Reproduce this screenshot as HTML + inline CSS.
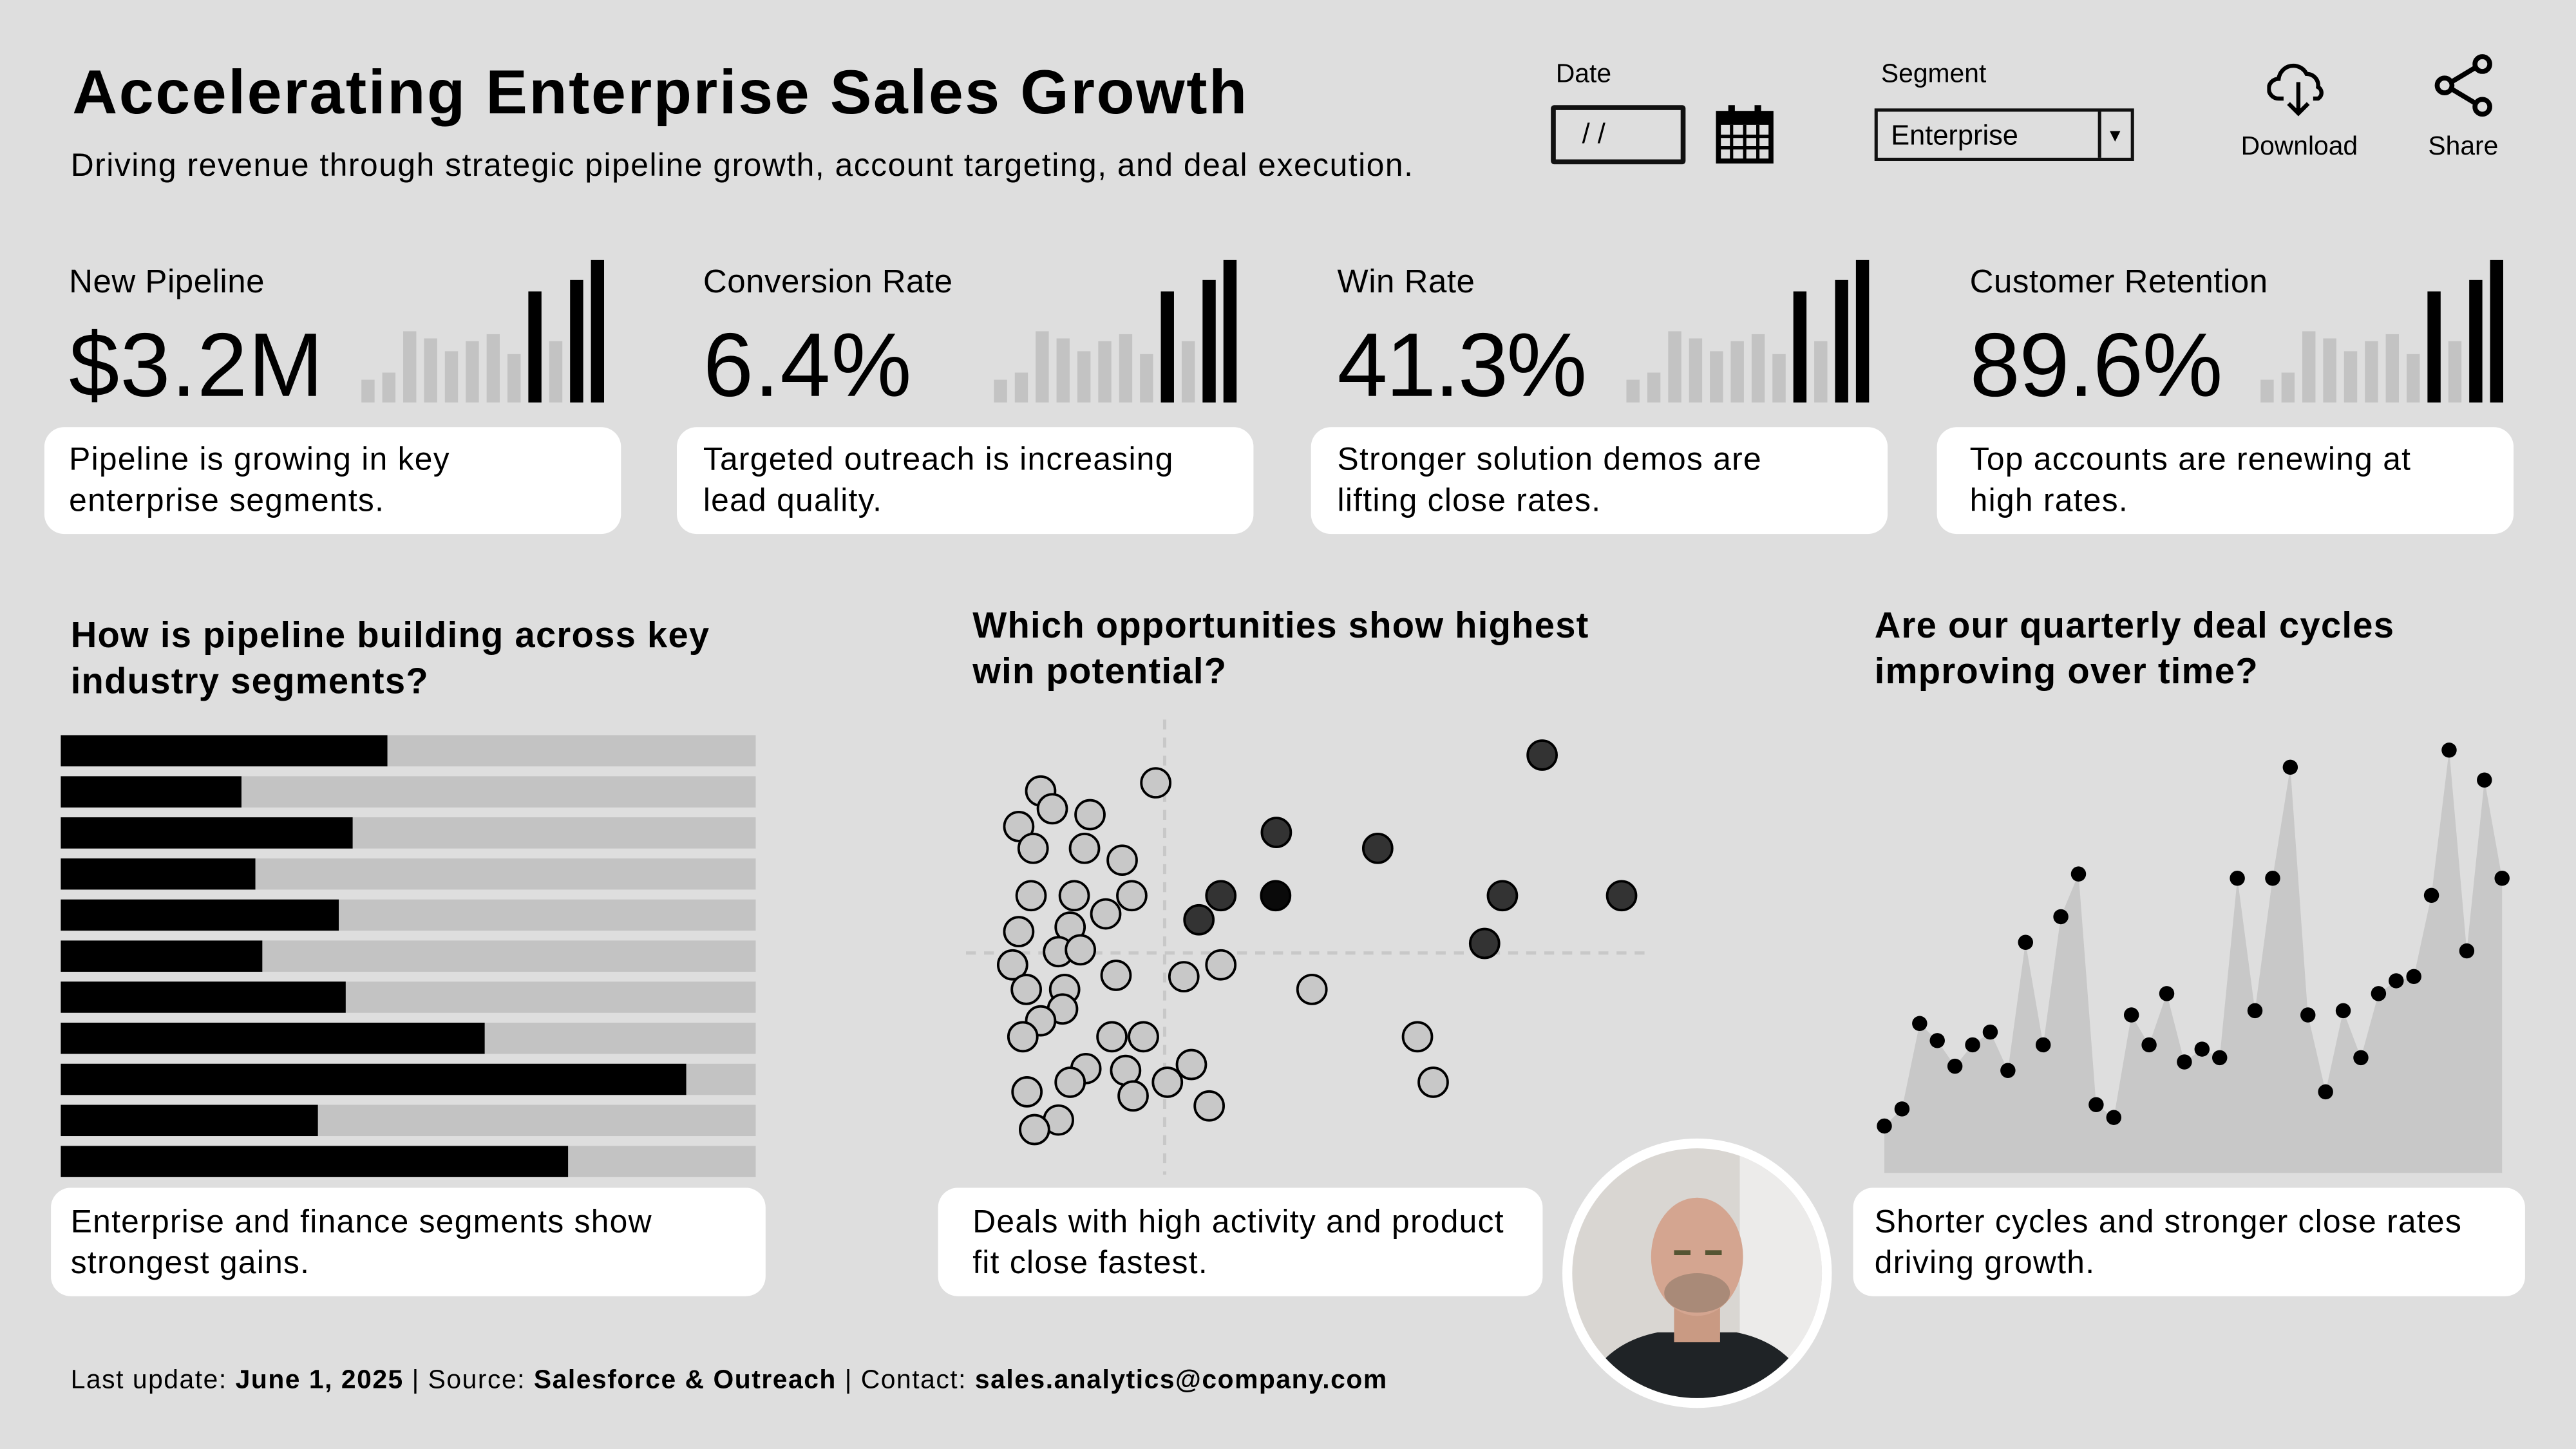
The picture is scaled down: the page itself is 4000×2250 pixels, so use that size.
<!DOCTYPE html>
<html><head><meta charset="utf-8">
<style>
html,body{margin:0;padding:0;background:#dedede;}
body{width:4000px;height:2250px;overflow:hidden;}
#root{position:absolute;left:0;top:0;width:1568px;height:882px;transform:scale(2.5510204);transform-origin:0 0;background:#dedede;font-family:"Liberation Sans",sans-serif;color:#000;}
.abs{position:absolute;}
.card{position:absolute;background:#fff;border-radius:12px;}
.cardtxt{position:absolute;font-size:19.5px;line-height:25px;letter-spacing:0.5px;white-space:nowrap;}
.kl{font-size:20px;letter-spacing:0.2px;}
.kv{font-size:55px;letter-spacing:0.5px;}
.sec{font-size:22px;font-weight:bold;line-height:28px;letter-spacing:0.5px;white-space:nowrap;}
</style></head><body>
<div id="root">
<div class="abs" style="left:44px;top:36px;font-size:38px;font-weight:bold;letter-spacing:1px;white-space:nowrap;">Accelerating Enterprise Sales Growth</div>
<div class="abs" style="left:43px;top:90px;font-size:19.5px;letter-spacing:0.6px;white-space:nowrap;">Driving revenue through strategic pipeline growth, account targeting, and deal execution.</div>

<div class="abs" style="left:947px;top:37px;font-size:16px;">Date</div>
<div class="abs" style="left:944px;top:64px;width:76px;height:30px;border:3px solid #111;border-radius:2px;font-size:17px;line-height:30px;text-indent:16px;">/ /</div>
<svg class="abs" style="left:1044px;top:62px" width="36" height="38" viewBox="0 0 36 38"><rect x="2" y="7" width="32" height="29" fill="none" stroke="#000" stroke-width="3"/><rect x="2" y="7" width="32" height="7" fill="#000"/><rect x="8" y="2" width="4" height="9" fill="#000"/><rect x="24" y="2" width="4" height="9" fill="#000"/><path d="M2 21H34M2 28H34M10 14V36M18 14V36M26 14V36" stroke="#000" stroke-width="2"/></svg>
<div class="abs" style="left:1145px;top:37px;font-size:16px;">Segment</div>
<div class="abs" style="left:1141px;top:66px;width:154px;height:28px;border:2px solid #111;background:#dedede;font-size:17px;line-height:30px;text-indent:8px;">Enterprise<div style="position:absolute;right:0;top:0;width:18px;height:28px;border-left:2px solid #111;font-size:11px;text-indent:3px;">▼</div></div>
<svg class="abs" style="left:1380px;top:36px" width="38" height="36" viewBox="0 0 38 36"><path d="M10 24H7a6 6 0 0 1 0-12 9 9 0 0 1 17-3 7 7 0 0 1 7 8 4 4 0 0 1 0 7h-3" fill="none" stroke="#000" stroke-width="2.5"/><path d="M19 14V33M13 27l6 6 6-6" fill="none" stroke="#000" stroke-width="2.5"/></svg>
<div class="abs" style="left:1364px;top:81px;font-size:16px;">Download</div>
<svg class="abs" style="left:1480px;top:32px" width="40" height="40" viewBox="0 0 40 40"><circle cx="31" cy="7" r="4.5" fill="none" stroke="#000" stroke-width="3"/><circle cx="8" cy="20" r="4.5" fill="none" stroke="#000" stroke-width="3"/><circle cx="31" cy="33" r="4.5" fill="none" stroke="#000" stroke-width="3"/><path d="M12 18L27 9M12 22L27 31" stroke="#000" stroke-width="3"/></svg>
<div class="abs" style="left:1478px;top:81px;font-size:16px;">Share</div>

<div class="abs kl" style="left:42px;top:161px;">New Pipeline</div>
<div class="abs kv" style="left:42px;top:190px;">$3.2M</div>
<div class="abs kl" style="left:428px;top:161px;">Conversion Rate</div>
<div class="abs kv" style="left:428px;top:190px;">6.4%</div>
<div class="abs kl" style="left:814px;top:161px;">Win Rate</div>
<div class="abs kv" style="left:814px;top:190px;letter-spacing:-1px;">41.3%</div>
<div class="abs kl" style="left:1199px;top:161px;">Customer Retention</div>
<div class="abs kv" style="left:1199px;top:190px;letter-spacing:-0.5px;">89.6%</div>

<div class="card" style="left:27px;top:260px;width:351px;height:65px;"><div class="cardtxt" style="left:15px;top:8px;">Pipeline is growing in key<br>enterprise segments.</div></div>
<div class="card" style="left:412px;top:260px;width:351px;height:65px;"><div class="cardtxt" style="left:16px;top:8px;">Targeted outreach is increasing<br>lead quality.</div></div>
<div class="card" style="left:798px;top:260px;width:351px;height:65px;"><div class="cardtxt" style="left:16px;top:8px;">Stronger solution demos are<br>lifting close rates.</div></div>
<div class="card" style="left:1179px;top:260px;width:351px;height:65px;"><div class="cardtxt" style="left:20px;top:8px;">Top accounts are renewing at<br>high rates.</div></div>

<div class="abs sec" style="left:43px;top:373px;">How is pipeline building across key<br>industry segments?</div>
<div class="abs sec" style="left:592px;top:367px;">Which opportunities show highest<br>win potential?</div>
<div class="abs sec" style="left:1141px;top:367px;">Are our quarterly deal cycles<br>improving over time?</div>

<svg id="chart" class="abs" style="left:0;top:0" width="1568" height="882"></svg>

<div class="card" style="left:31px;top:723px;width:435px;height:66px;"><div class="cardtxt" style="left:12px;top:9px;">Enterprise and finance segments show<br>strongest gains.</div></div>
<div class="card" style="left:571px;top:723px;width:368px;height:66px;"><div class="cardtxt" style="left:21px;top:9px;">Deals with high activity and product<br>fit close fastest.</div></div>
<div class="card" style="left:1128px;top:723px;width:409px;height:66px;"><div class="cardtxt" style="left:13px;top:9px;">Shorter cycles and stronger close rates<br>driving growth.</div></div>

<svg class="abs" style="left:949px;top:691px" width="168" height="168" viewBox="0 0 168 168">
<defs><clipPath id="cp"><circle cx="84" cy="84" r="76"/></clipPath></defs>
<circle cx="84" cy="84" r="82" fill="#fff"/>
<g clip-path="url(#cp)"><rect width="168" height="168" fill="#d9d6d2"/><rect x="110" width="58" height="168" fill="#ecebea"/>
<path d="M10 170 Q20 128 60 120 L108 120 Q148 128 158 170Z" fill="#1f2326"/>
<rect x="70" y="100" width="28" height="26" fill="#c99a83"/>
<ellipse cx="84" cy="74" rx="28" ry="36" fill="#d4a590"/>
<ellipse cx="84" cy="96" rx="20" ry="12" fill="#a98a78"/>
<rect x="70" y="70" width="10" height="3" fill="#553"/><rect x="89" y="70" width="10" height="3" fill="#553"/></g>
</svg>

<div class="abs" style="left:43px;top:832px;font-size:16px;letter-spacing:0.6px;white-space:nowrap;">Last update: <b>June 1, 2025</b> | Source: <b>Salesforce &amp; Outreach</b> | Contact: <b>sales.analytics@company.com</b></div>
</div>
<script>
// KPI sparkbars (shared pattern)
const sparkValues=[16,21,50,45,36,43,48,34,78,43,86,100];
const sparkHighlight=[0,0,0,0,0,0,0,0,1,0,1,1];
// Pipeline by industry segment (% of target)
const segments=["Enterprise","Mid-Market","Finance","Healthcare","Retail","Education","Manufacturing","Technology","Financial Services","Government","Telecom"];
const segmentValues=[47,26,42,28,40,29,41,61,90,37,73];
// Opportunity scatter
const oppActivity=[10.9,12.6,18.1,7.7,9.8,17.3,22.8,27.7,9.5,15.8,24.2,20.4,7.7,15.2,13.5,16.7,6.8,21.9,31.8,37.2,8.8,14.4,14.1,10.9,8.3,21.3,25.9,50.5,65.9,17.5,23.3,32.9,15.2,29.4,24.4,8.9,68.2,35.5,13.5,10,84.1,45.3,60.1,37.2,45.2,78.3,95.7,34,75.7];
const oppFit=[84.3,80.4,79.1,76.5,71.7,71.7,69.1,86.1,61.3,61.3,61.3,57.3,53.4,54.4,49,49.4,46.1,43.8,43.5,46.1,40.7,40.7,36.4,33.8,30.3,30.3,30.3,40.7,30.3,23.3,22.9,24.2,20.3,20.3,17.3,18.2,20.3,15.1,12,9.9,92.2,75.2,71.7,61.3,61.3,61.3,61.3,56,50.8];
const oppTier=[0,0,0,0,0,0,0,0,0,0,0,0,0,0,0,0,0,0,0,0,0,0,0,0,0,0,0,0,0,0,0,0,0,0,0,0,0,0,0,0,1,1,1,1,2,1,1,1,1];
const activityThreshold=29, fitThreshold=48.7;
// Quarterly deal cycle index
const cycleValues=[11,15,35,31,25,30,33,24,54,30,60,70,16,13,37,30,42,26,29,27,69,38,69,95,37,19,38,27,42,45,46,65,99,52,92,69];

const NS="http://www.w3.org/2000/svg";
const svg=document.getElementById("chart");
function mk(tag,attrs){const e=document.createElementNS(NS,tag);for(const k in attrs)e.setAttribute(k,attrs[k]);svg.appendChild(e);return e;}

const sparkRights=[372,757,1142,1528];
sparkRights.forEach((r,ci)=>{
  const x0=r-152, base=245, step=12.7, w=8;
  const sy=v=>v*86.7/100;
  sparkValues.forEach((v,i)=>{
    const b=mk("rect",{x:x0+i*step,y:base-sy(v),width:w,height:sy(v),fill:sparkHighlight[i]?"#000":"#c3c3c3"});
    
    
  });
});

const bx0=37,bx1=460;
const bxs=v=>bx0+(bx1-bx0)*v/100;
segmentValues.forEach((v,i)=>{
  const y=447.5+i*25;
  const bg=mk("rect",{x:bx0,y:y,width:bx1-bx0,height:19,fill:"#c3c3c3"});
  
  
  const b=mk("rect",{x:bx0,y:y,width:bxs(v)-bx0,height:19,fill:"#000"});
  
  
});

const sx=v=>588+v*4.17, sy2=v=>715-v*2.77;
const vl=mk("line",{x1:sx(activityThreshold),x2:sx(activityThreshold),y1:438,y2:715,stroke:"#c8c8c8","stroke-width":2,"stroke-dasharray":"6 5"});


const hl=mk("line",{x1:588,x2:1005,y1:sy2(fitThreshold),y2:sy2(fitThreshold),stroke:"#c8c8c8","stroke-width":2,"stroke-dasharray":"6 5"});


const tierFill=["#c8c8c8","#333","#0a0a0a"];
oppActivity.forEach((a,i)=>{
  const c=mk("circle",{cx:sx(a),cy:sy2(oppFit[i]),r:8.8,fill:tierFill[oppTier[i]],stroke:"#000","stroke-width":1.5});
  
  
});

const lx0=1147,lx1=1523,lbase=714;
const lx=i=>lx0+(lx1-lx0)*i/(cycleValues.length-1);
const ly=v=>lbase-v*2.6;
let d="M"+lx0+" "+lbase;
cycleValues.forEach((v,i)=>{d+=" L"+lx(i).toFixed(1)+" "+ly(v).toFixed(1);});
d+=" L"+lx1+" "+lbase+" Z";
const area=mk("path",{d:d,fill:"#c8c8c8"});


cycleValues.forEach((v,i)=>{
  const p=mk("circle",{cx:lx(i),cy:ly(v),r:4.6,fill:"#000"});
  
  
});
</script>
</body></html>
